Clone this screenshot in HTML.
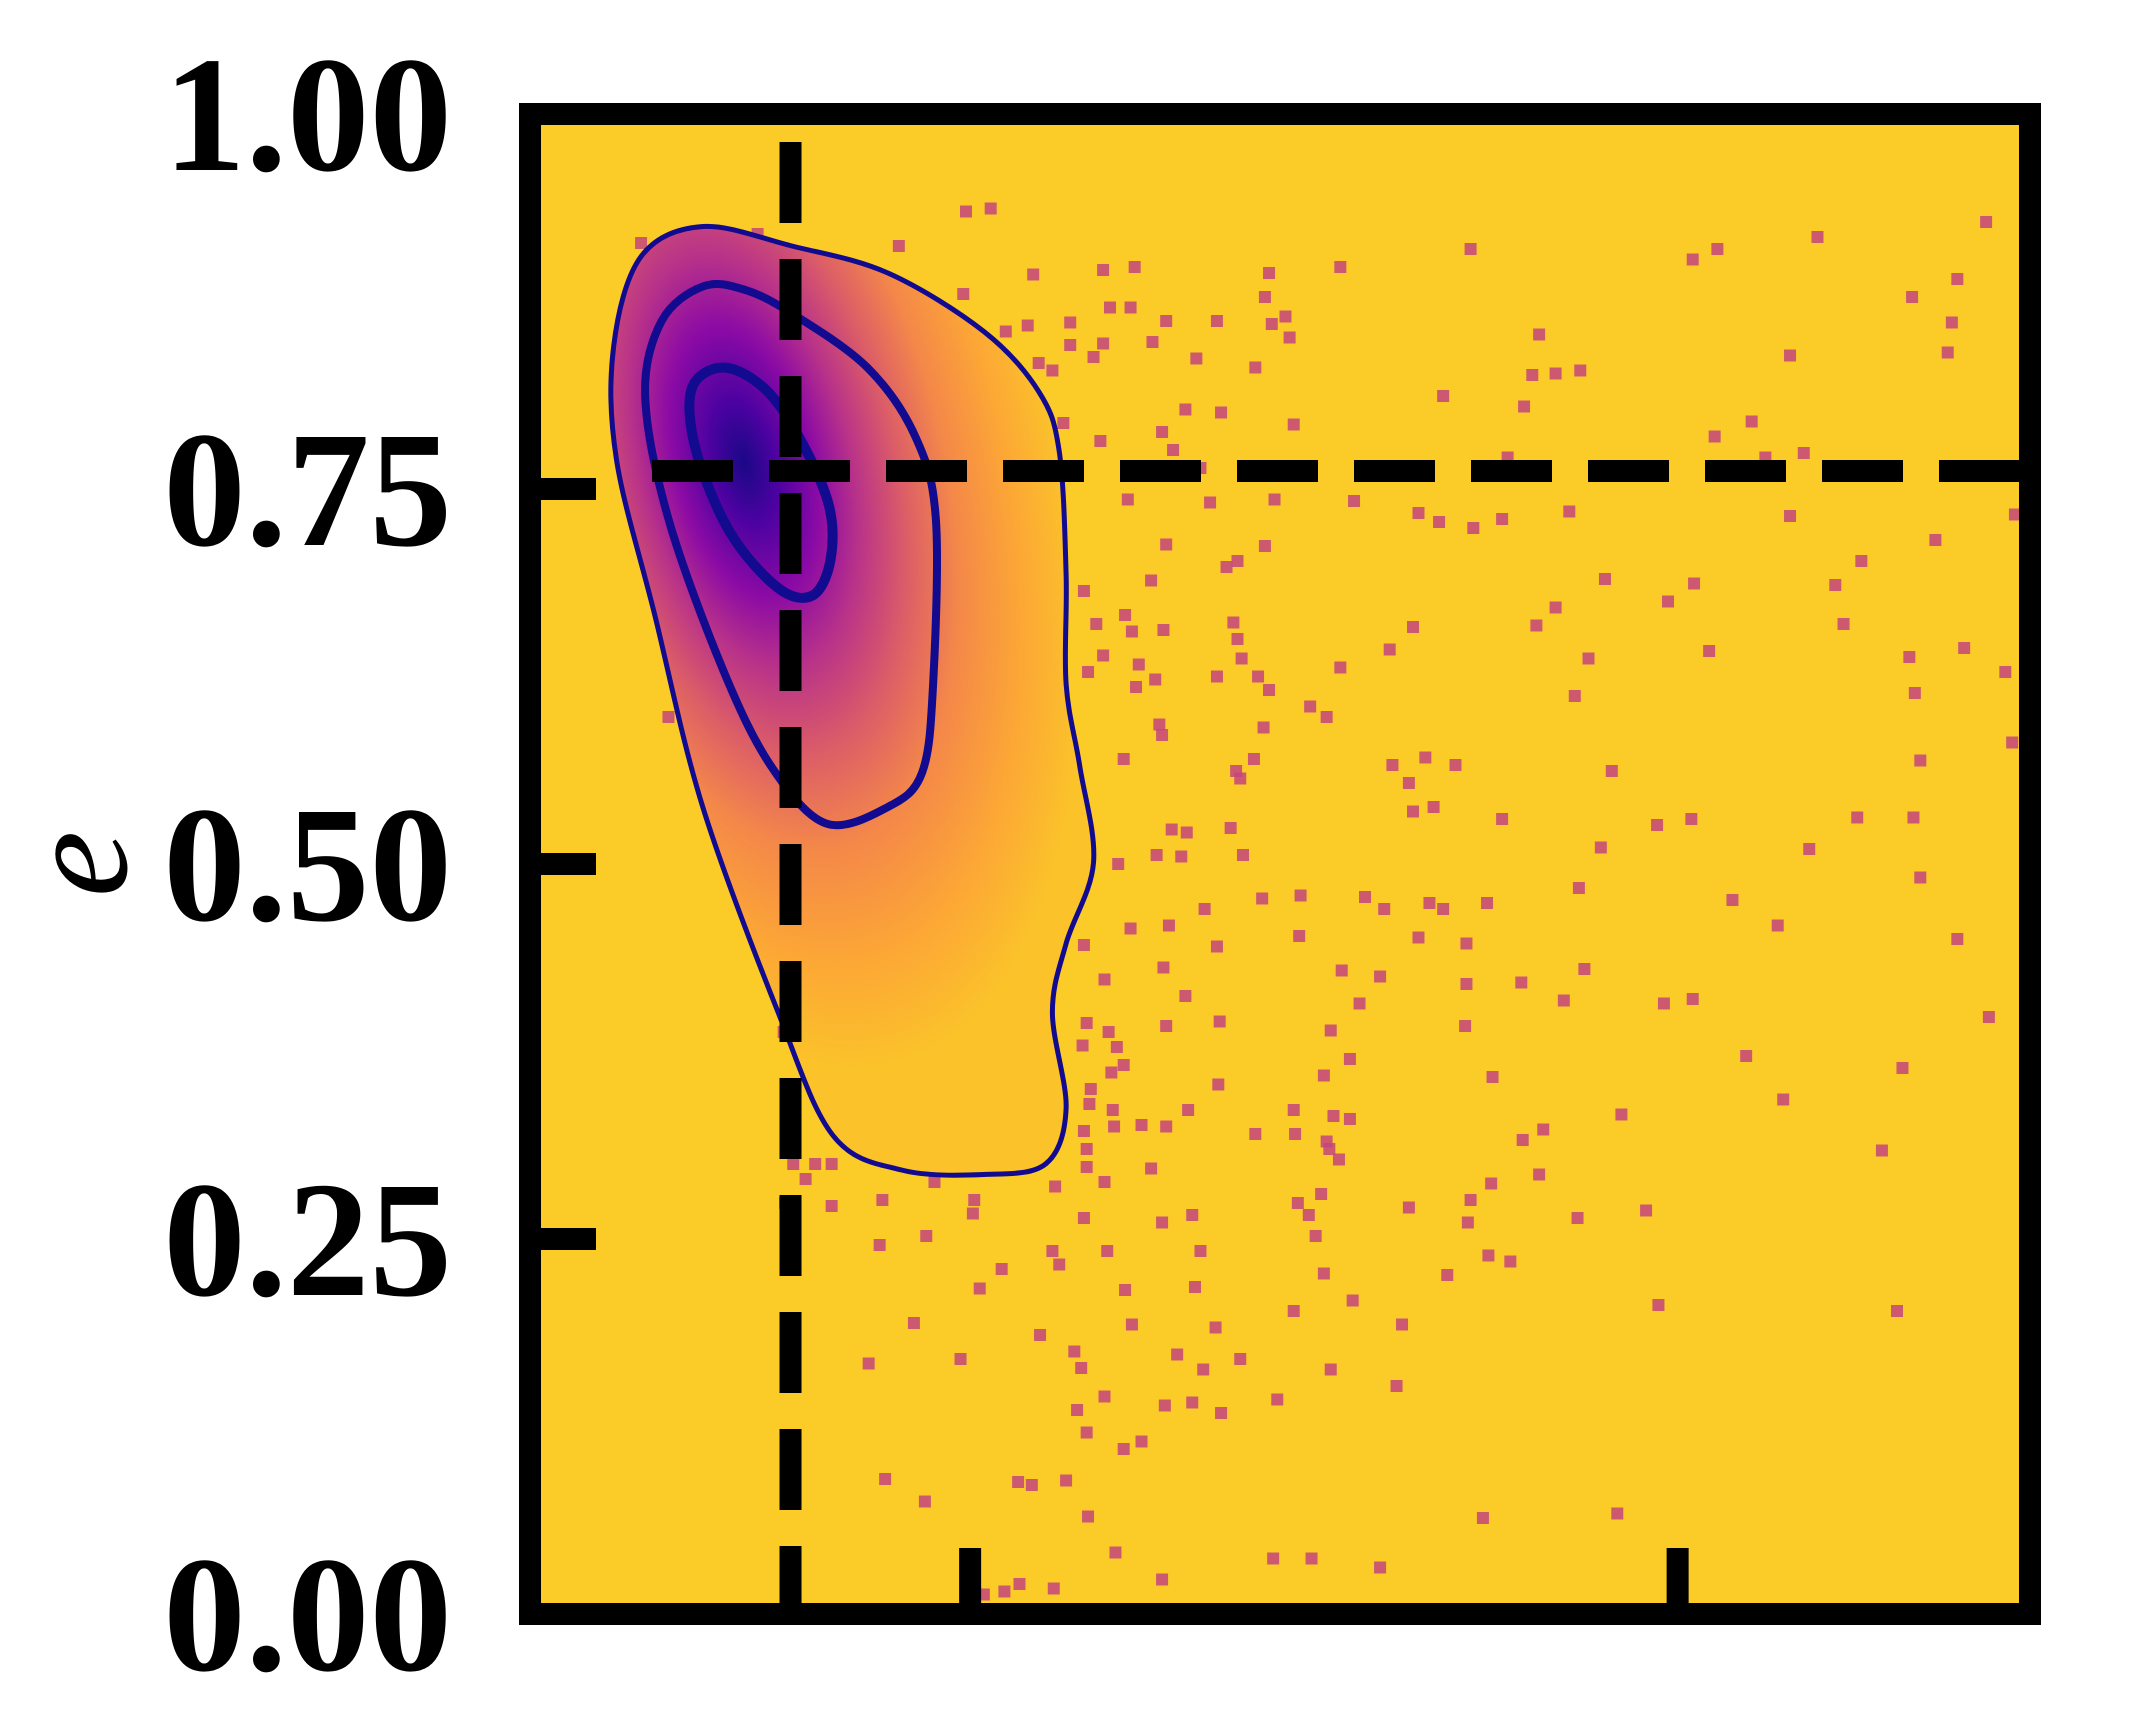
<!DOCTYPE html>
<html><head><meta charset="utf-8"><style>
html,body{margin:0;padding:0;background:#fff;}
svg{display:block;}
</style></head><body>
<svg id="chart" width="2144" height="1729" viewBox="0 0 2144 1729" xmlns="http://www.w3.org/2000/svg">
<defs>
<clipPath id="plotClip"><rect x="530" y="114" width="1500" height="1500"/></clipPath>
</defs>
<rect x="530" y="114" width="1500" height="1500" fill="#fbcc27"/>
<g id="density" clip-path="url(#plotClip)"></g>
<g id="points" clip-path="url(#plotClip)"></g>
<g id="contours"></g>
<g id="refs"></g>
<g id="ticks"></g>
<rect x="530" y="114" width="1500" height="1500" fill="none" stroke="#000" stroke-width="22"/>
<g id="ylabels" font-family="'Liberation Serif', serif" font-weight="bold" font-size="165" text-anchor="end"></g>
<text x="0" y="0" transform="translate(126,864) rotate(-90)" font-family="'Liberation Serif', serif" font-style="italic" font-size="150" text-anchor="middle">e</text>
</svg>
<script>
// ---- data ----
const xMin = 389, xMax = 1483;   // arbitrary x units (no x labels shown)
const yTicks = [0, 0.25, 0.5, 0.75, 1.0];
const yTickLabels = ["0.00", "0.25", "0.50", "0.75", "1.00"];
const xTicks = [579, 710, 1226];
const refX = 579;
const refE = 0.762;
const ptX = [707,725,470,658,555,1075,1255,1237,1328,1451,980,928,830,807,756,705,1430,1397,925,812,827,940,930,890,853,783,752,736,943,1426,1125,843,807,783,800,875,918,1423,1308,760,770,1155,1137,1120,1055,1114,867,893,946,778,1280,850,1253,805,858,1102,1318,1290,878,825,885,932,990,1037,1052,1077,1098,1147,1308,1472,1414,853,925,905,897,1360,1173,1238,1219,1341,842,793,823,1137,1123,1347,902,802,828,851,1033,905,908,1016,1161,1249,1395,1435,807,833,796,890,920,980,1465,831,845,928,1151,1399,958,970,848,924,850,490,1470,822,917,1018,1042,1064,1178,1403,904,907,1030,1033,1048,1098,1211,1236,1357,1398,857,868,900,1170,846,864,909,1322,818,1403,1154,1266,923,951,998,1012,1045,1055,1087,881,827,855,1299,950,1037,1072,793,890,1430,851,808,981,1009,1072,1112,1158,867,994,1143,1216,1237,1071,892,795,853,973,811,574,1453,792,817,822,987,968,1276,1390,1091,813,891,798,797,1303,814,869,946,975,987,1185,793,815,835,853,918,947,970,1128,1113,1375,795,972,979,581,597,609,795,842,1125,590,684,772,808,575,646,713,1090,1030,1075,609,949,966,957,1203,1153,793,850,872,1073,712,678,962,644,770,810,878,1088,1104,775,733,968,1058,717,823,874,989,1212,1386,946,669,828,889,1025,761,786,636,703,861,907,880,791,973,808,1021,934,852,872,788,893,795,822,835,648,745,755,780,677,796,1084,1182,816,931,959,1009,850,746,735,771,720,862];
const ptE = [0.935,0.937,0.914,0.912,0.92,0.91,0.91,0.903,0.918,0.928,0.898,0.894,0.898,0.896,0.893,0.88,0.89,0.878,0.878,0.871,0.871,0.865,0.86,0.862,0.862,0.861,0.859,0.855,0.851,0.861,0.853,0.848,0.847,0.846,0.838,0.837,0.831,0.841,0.839,0.834,0.829,0.829,0.827,0.826,0.812,0.805,0.803,0.801,0.793,0.794,0.795,0.788,0.785,0.782,0.776,0.771,0.774,0.771,0.764,0.743,0.741,0.743,0.742,0.734,0.728,0.724,0.73,0.735,0.732,0.733,0.716,0.713,0.712,0.702,0.698,0.702,0.69,0.687,0.675,0.686,0.689,0.682,0.666,0.671,0.659,0.66,0.661,0.66,0.655,0.656,0.658,0.65,0.637,0.643,0.637,0.642,0.638,0.644,0.639,0.633,0.628,0.625,0.625,0.631,0.628,0.618,0.623,0.616,0.612,0.614,0.605,0.598,0.593,0.591,0.586,0.598,0.581,0.57,0.57,0.566,0.571,0.566,0.562,0.569,0.562,0.557,0.554,0.535,0.538,0.53,0.526,0.53,0.531,0.531,0.523,0.521,0.524,0.511,0.506,0.505,0.506,0.51,0.5,0.491,0.484,0.476,0.477,0.479,0.478,0.47,0.474,0.47,0.474,0.47,0.457,0.459,0.459,0.452,0.451,0.447,0.446,0.445,0.45,0.431,0.423,0.429,0.425,0.42,0.421,0.43,0.412,0.407,0.409,0.407,0.41,0.392,0.395,0.394,0.392,0.389,0.388,0.388,0.398,0.379,0.378,0.366,0.37,0.359,0.372,0.364,0.358,0.361,0.353,0.35,0.34,0.343,0.336,0.336,0.336,0.332,0.33,0.333,0.322,0.325,0.326,0.325,0.32,0.32,0.315,0.323,0.316,0.309,0.31,0.31,0.303,0.3,0.3,0.3,0.298,0.297,0.293,0.29,0.288,0.285,0.288,0.274,0.276,0.276,0.287,0.271,0.276,0.272,0.274,0.28,0.266,0.269,0.264,0.264,0.261,0.266,0.261,0.267,0.252,0.252,0.246,0.242,0.242,0.242,0.239,0.235,0.233,0.23,0.227,0.226,0.217,0.216,0.218,0.209,0.206,0.202,0.202,0.194,0.193,0.191,0.193,0.186,0.175,0.167,0.17,0.173,0.17,0.163,0.164,0.163,0.145,0.152,0.143,0.139,0.141,0.136,0.134,0.121,0.11,0.115,0.09,0.088,0.086,0.089,0.075,0.065,0.064,0.067,0.041,0.037,0.037,0.031,0.023,0.02,0.015,0.017,0.013,0.001];
// contour levels: x units, e values
const outerX = [515,470,450,452,480,515,570,610,660,720,765,780,770,780,800,790,780,780,775,760,720,650,580];
const outerE = [0.925,0.905,0.845,0.77,0.666,0.538,0.401,0.319,0.296,0.293,0.300,0.337,0.401,0.447,0.501,0.565,0.620,0.693,0.775,0.815,0.855,0.894,0.912];
const midX = [515,485,473,490,530,565,605,650,675,683,685,670,635,580,545];
const midE = [0.885,0.862,0.812,0.730,0.629,0.565,0.527,0.538,0.561,0.620,0.730,0.785,0.831,0.867,0.883];
const innerX = [530,507,510,535,570,595,608,607,585,560];
const innerE = [0.831,0.817,0.776,0.721,0.684,0.679,0.702,0.739,0.785,0.817];
const peakX = 545, peakE = 0.768;

// ---- scales ----
const NS = "http://www.w3.org/2000/svg";
const sx = v => 530 + (v - xMin) / (xMax - xMin) * 1500;
const sy = e => 1614 - e * 1500;
function mk(tag, attrs, parent){ const el = document.createElementNS(NS, tag); for (const k in attrs) el.setAttribute(k, attrs[k]); parent.appendChild(el); return el; }
function smoothPath(xs, es){
  const p = xs.map((x,i)=>[sx(x), sy(es[i])]); const n = p.length; let d = `M${p[0][0]},${p[0][1]}`;
  for (let i=0;i<n;i++){ const p0=p[(i-1+n)%n], p1=p[i], p2=p[(i+1)%n], p3=p[(i+2)%n];
    d += ` C${p1[0]+(p2[0]-p0[0])/6},${p1[1]+(p2[1]-p0[1])/6} ${p2[0]-(p3[0]-p1[0])/6},${p2[1]-(p3[1]-p1[1])/6} ${p2[0]},${p2[1]}`; }
  return d + "Z";
}
const dOuter = smoothPath(outerX, outerE), dMid = smoothPath(midX, midE), dInner = smoothPath(innerX, innerE);

// density fill
const dens = document.getElementById('density');
const defs = document.querySelector('defs');
const cx = sx(peakX), cy = sy(peakE);
const grad = mk('radialGradient', {id:'dg', gradientUnits:'userSpaceOnUse', cx:cx, cy:cy, r:620,
  gradientTransform:`translate(${cx},${cy}) rotate(-14) scale(0.5,1) translate(${-cx},${-cy})`}, defs);
[[0,'#1a0886'],[0.1,'#4c02a1'],[0.22,'#8b0aa5'],[0.34,'#b83289'],[0.48,'#db5c68'],[0.64,'#f48849'],[0.82,'#fca636'],[1,'#fbc22a']]
  .forEach(s=>mk('stop',{offset:s[0],'stop-color':s[1]},grad));
const fillP = mk('path', {d:dOuter, fill:'url(#dg)'}, dens);



// points
const pts = document.getElementById('points');
ptX.forEach((x,i)=>{
  const r = mk('rect', {x:sx(x)-6, y:sy(ptE[i])-6, width:12, height:12, fill:'#c4447f', 'fill-opacity':0.85}, pts);
  
  
});

// contours
const cg = document.getElementById('contours');
[[dOuter,5,'kde-contour-outer'],[dMid,8,'kde-contour-middle'],[dInner,10,'kde-contour-inner']].forEach(c=>{
  const p = mk('path', {d:c[0], fill:'none', stroke:'#120a8f', 'stroke-width':c[1]}, cg);
  
  
});

// reference lines
const rg = document.getElementById('refs');
const vl = mk('line', {x1:sx(refX), x2:sx(refX), y1:142, y2:1614, stroke:'#000', 'stroke-width':22, 'stroke-dasharray':'81 36'}, rg);


const hl = mk('line', {x1:652, x2:2033, y1:sy(refE), y2:sy(refE), stroke:'#000', 'stroke-width':22, 'stroke-dasharray':'81 36'}, rg);



// ticks + labels
const tg = document.getElementById('ticks'), lg = document.getElementById('ylabels');
yTicks.forEach((e,i)=>{
  const t = mk('line', {x1:530, x2:596, y1:sy(e), y2:sy(e), stroke:'#000', 'stroke-width':22}, tg);
  
  
  const l = mk('text', {x:452, y:sy(e)+56}, lg);
  l.textContent = yTickLabels[i];
  
  
});
xTicks.forEach(x=>{
  const t = mk('line', {x1:sx(x), x2:sx(x), y1:1614, y2:1548, stroke:'#000', 'stroke-width':22}, tg);
  
  
});
</script>
</body></html>
